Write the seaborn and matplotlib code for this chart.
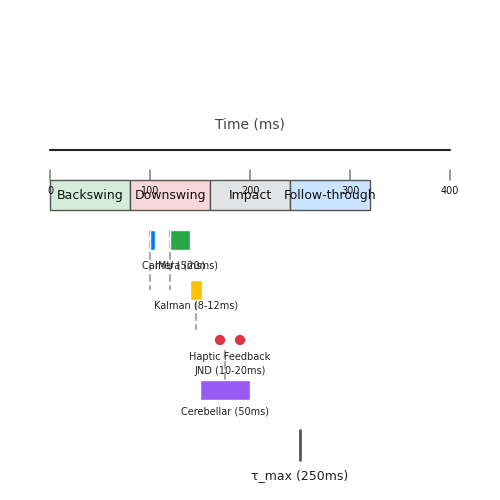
import matplotlib
matplotlib.use("Agg")
import matplotlib.pyplot as plt
import seaborn as sns
import pandas as pd

sns.set_theme(style="white")
plt.rcParams['font.family'] = ['DejaVu Sans']

# ---- data ----
ticks = [0, 100, 200, 300, 400]
phase_names = ["Backswing", "Downswing", "Impact", "Follow-through"]
phase_start = [0, 80, 160, 240]
phase_dur = [80, 80, 80, 80]
phase_colors = ["#d4edda", "#f8d7da", "#e2e3e5", "#cce5ff"]

sensor_names = ["Camera (20ms)", "IMU (5ms)", "Kalman (8-12ms)", "Cerebellar (50ms)"]
sensor_start = [100, 120, 140, 150]
sensor_dur = [5, 20, 12, 50]
sensor_label_x = [130, 130, 146, 175]
sensor_colors = ["#007bff", "#28a745", "#ffc107", "#9b59f6"]
sensor_line_x = [100, 120, 146, 175]

haptic_x = [170, 190]
haptic_label = "Haptic Feedback\nJND (10-20ms)"
tau_max = 250
tau_label = "τ_max (250ms)"

fig = plt.figure(figsize=(5, 5), dpi=100)
ax = fig.add_axes([0, 0, 1, 1])
ax.set_xlim(-50, 450)
ax.set_ylim(500, 0)
ax.axis("off")

# title and axis line
ax.text(200, 125, "Time (ms)", ha="center", va="center", fontsize=10, color="#444444")
ax.plot([ticks[0], ticks[-1]], [150, 150], color="#222222", lw=1.5)
for t in ticks:
    ax.plot([t, t], [170, 180], color="#888888", lw=1.2)
    ax.text(t, 191, str(t), ha="center", va="center", fontsize=7, color="#111111", zorder=4)

# phases
ax.barh([195] * 4, phase_dur, left=phase_start, height=30, color=phase_colors,
        edgecolor="#555555", linewidth=1, zorder=2)
for n, s, d in zip(phase_names, phase_start, phase_dur):
    ax.text(s + d / 2, 195, n, ha="center", va="center", fontsize=9, color="#111111", zorder=3)

# sensors
rows_y = [240, 240, 290, 390]
line_y = [(230, 290), (230, 290), (280, 330), (350, 400)]
label_y = [266, 266, 306, 411]
for i in range(4):
    ax.plot([sensor_line_x[i]] * 2, line_y[i], color="#aaaaaa", lw=1.5, ls="--", zorder=1)
    ax.barh(rows_y[i], sensor_dur[i], left=sensor_start[i], height=20,
            color=sensor_colors[i], zorder=2)
    ax.text(sensor_label_x[i], label_y[i], sensor_names[i],
            ha="center", va="center", fontsize=7, color="#222222", zorder=3)

# haptic
hdf = pd.DataFrame({"x": haptic_x, "y": [340] * len(haptic_x)})
sns.scatterplot(data=hdf, x="x", y="y", ax=ax, color="#dc3545", s=55,
                edgecolor="none", legend=False, zorder=3)
ax.text(180, 364, haptic_label, ha="center", va="center", fontsize=7,
        color="#222222", linespacing=1.6, zorder=3)

# tau max
ax.plot([tau_max, tau_max], [430, 460], color="#555555", lw=2)
ax.text(tau_max, 476, tau_label, ha="center", va="center", fontsize=9, color="#222222")

ax.set_xlim(-50, 450)
ax.set_ylim(500, 0)
ax.set_xlabel("")
ax.set_ylabel("")
fig.savefig("out.png", dpi=100)
